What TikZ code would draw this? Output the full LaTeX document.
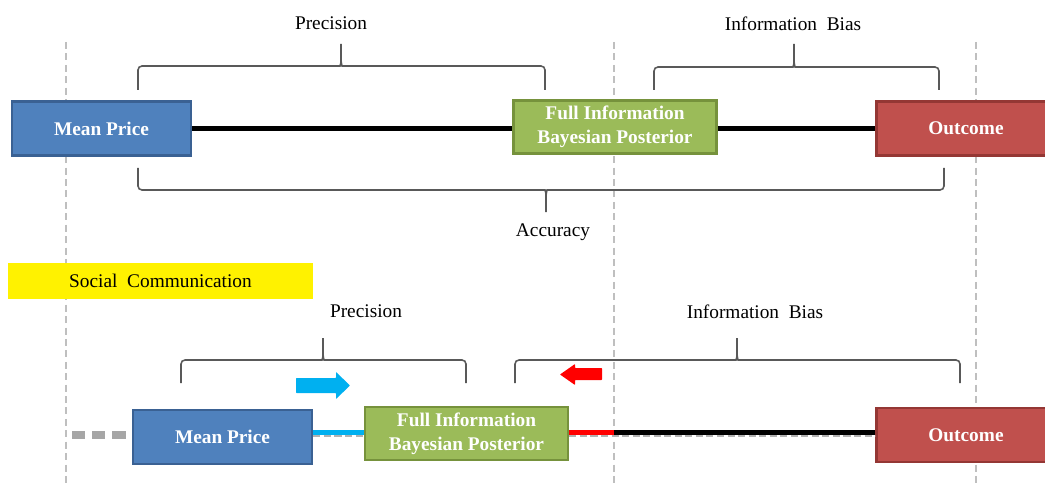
\documentclass[tikz,border=0pt]{standalone}
\usepackage{fontspec}
\setmainfont{Liberation Serif}
\usepackage{xcolor}
\usetikzlibrary{positioning, shadows}

\definecolor{priceblue}{HTML}{4F81BD}
\definecolor{priceedge}{HTML}{3A6193}
\definecolor{postgreen}{HTML}{9BBB59}
\definecolor{postedge}{HTML}{76923C}
\definecolor{outred}{HTML}{C0504D}
\definecolor{outedge}{HTML}{943734}
\definecolor{flowblue}{HTML}{00B0F0}
\definecolor{guidegray}{HTML}{BFBFBF}
\definecolor{bracegray}{HTML}{595959}

\begin{document}
\begin{tikzpicture}[x=0.02cm, y=-0.02cm, font=\fontsize{11}{13}\selectfont,
    infobox/.style={draw, line width=1.6pt, inner sep=0pt, text=white, align=center,
      font=\fontsize{11}{13.6}\selectfont\bfseries,
      drop shadow={opacity=0.25, shadow xshift=0.8pt, shadow yshift=-0.8pt}},
    pricebox/.style={infobox, fill=priceblue, draw=priceedge, minimum width=3.58cm, minimum height=1.08cm},
    postbox/.style={infobox, fill=postgreen, draw=postedge, minimum width=4.06cm, minimum height=1.06cm},
    outbox/.style={infobox, fill=outred, draw=outedge, minimum width=3.58cm, minimum height=1.08cm},
    guide/.style={guidegray, line width=0.9pt, dash pattern=on 4pt off 2.5pt},
    bracket/.style={bracegray, line width=0.9pt, rounded corners=0.8mm},
    link/.style={line width=2.6pt},
    trail/.style={gray!60, line width=1.6pt, dash pattern=on 4pt off 2pt}]
  \useasboundingbox (0,0) rectangle (1045,483);

  % vertical guides
  \draw[guide] (66,42) -- (66,483);
  \draw[guide] (614,42) -- (614,483);
  \draw[guide] (976,42) -- (976,483);

  % top row
  \node[pricebox] (meanTop) at (101.5,128.5) {Mean Price};
  \node[postbox] (fullTop) at (615,127) {Full Information\\Bayesian Posterior};
  \node[outbox] (outTop) at (966,128.5) {Outcome};
  \draw[link] (meanTop.east) -- (fullTop.west |- meanTop.east);
  \draw[link] (fullTop.east |- meanTop.east) -- (outTop.west);

  % braces above / below the top row
  \draw[bracket] (138,90) -- (138,66) -- (336,66) .. controls (340,66) and (341,63) .. (341,58) -- (341,44)
    (341,58) .. controls (341,63) and (342,66) .. (346,66) -- (545,66) -- (545,90);
  \node (precTop) at (331,23) {Precision};
  \draw[bracket] (654,90) -- (654,67) -- (789,67) .. controls (793,67) and (794,64) .. (794,59) -- (794,44)
    (794,59) .. controls (794,64) and (795,67) .. (799,67) -- (939,67) -- (939,90);
  \node (biasTop) at (793,24) {Information\ \ Bias};
  \draw[bracket] (138,168) -- (138,190) -- (541,190) .. controls (545,190) and (546,193) .. (546,198) -- (546,212)
    (546,198) .. controls (546,193) and (547,190) .. (551,190) -- (944,190) -- (944,168);
  \node (accTop) at (553,232) {Accuracy};

  % social communication
  \node[fill=yellow, minimum width=6.1cm, minimum height=0.72cm, inner sep=0pt] (social) at (160.5,281) {Social\ \ Communication};

  % bottom row
  \node[pricebox] (meanBot) at (222.5,437) {Mean Price};
  \node[postbox] (fullBot) at (466.5,433.5) {Full Information\\Bayesian Posterior};
  \node[outbox] (outBot) at (966,435) {Outcome};
  \coordinate (tailBot) at (72,435);
  \coordinate (splitBot) at (614,432.5);
  \draw[gray!70, line width=4pt, dash pattern=on 7.5pt off 4pt] (tailBot) -- (meanBot.west |- tailBot);
  \draw[trail] ([yshift=-2pt]meanBot.east |- splitBot) -- ([yshift=-2pt]fullBot.west |- splitBot);
  \draw[trail] ([yshift=-2pt]fullBot.east |- splitBot) -- ([yshift=-2pt]outBot.west |- splitBot);
  \draw[link, flowblue] (meanBot.east |- splitBot) -- (fullBot.west |- splitBot);
  \draw[link, red] (fullBot.east |- splitBot) -- (splitBot);
  \draw[link] (splitBot) -- (outBot.west |- splitBot);

  % braces above the bottom row
  \draw[bracket] (181,383) -- (181,360) -- (318,360) .. controls (322,360) and (323,357) .. (323,352) -- (323,338)
    (323,352) .. controls (323,357) and (324,360) .. (328,360) -- (466,360) -- (466,383);
  \node (precBot) at (366,311) {Precision};
  \draw[bracket] (515,383) -- (515,360) -- (732,360) .. controls (736,360) and (737,357) .. (737,352) -- (737,338)
    (737,352) .. controls (737,357) and (738,360) .. (742,360) -- (960,360) -- (960,383);
  \node (biasBot) at (755,312) {Information\ \ Bias};

  % direction arrows
  \fill[flowblue, rounded corners=0.3pt] (296,378) -- (336,378) -- (336,372) -- (350,385.5) -- (336,399) -- (336,393) -- (296,393) -- cycle;
  \fill[red, rounded corners=0.3pt] (602,368) -- (575,368) -- (575,364) -- (560,374.5) -- (575,385) -- (575,380) -- (602,380) -- cycle;
\end{tikzpicture}
\end{document}
